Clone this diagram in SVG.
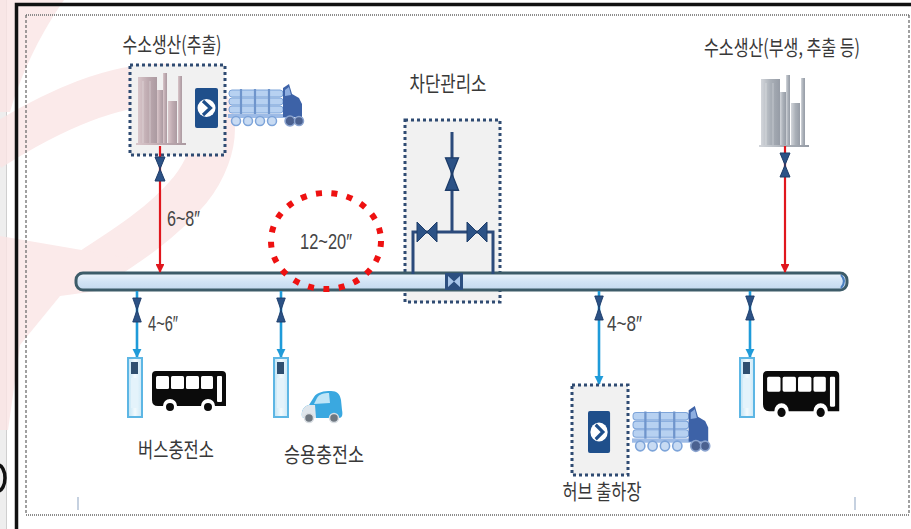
<svg xmlns="http://www.w3.org/2000/svg" width="911" height="529" viewBox="0 0 911 529">
  <style>
    .lbl { font-family: "Noto Sans CJK KR", "Noto Sans", sans-serif; font-size: 21px; fill: #383838; text-anchor: middle; }
    .num { font-family: "Liberation Sans", "Noto Sans", sans-serif; font-size: 22px; fill: #454545; }
    .dotbox { fill: #f1f1f1; stroke: #2f4b72; stroke-width: 3; stroke-dasharray: 3 3; }
    .red { stroke: #e0161d; stroke-width: 2.2; fill: none; }
    .blue { stroke: #1f9bd9; stroke-width: 2.6; fill: none; }
    .valve { fill: #2c5286; stroke: #1d3c69; stroke-width: 1; }
    .navy { stroke: #2b4a7b; stroke-width: 3; fill: none; }
    .wm { fill: #fbe5e5; }
  </style>
  <defs>
    <marker id="arrRed" viewBox="0 0 10 10" refX="9" refY="5" markerWidth="4" markerHeight="4" orient="auto" markerUnits="strokeWidth">
      <path d="M0,0 L10,5 L0,10 Z" fill="#e0161d"/>
    </marker>
    <marker id="arrBlue" viewBox="0 0 10 10" refX="9" refY="5" markerWidth="3.6" markerHeight="3.6" orient="auto" markerUnits="strokeWidth">
      <path d="M0,0 L10,5 L0,10 Z" fill="#1f9bd9"/>
    </marker>
    <linearGradient id="pipeFill" x1="0" y1="0" x2="0" y2="1">
      <stop offset="0" stop-color="#eef5fc"/>
      <stop offset="0.5" stop-color="#d2e4f5"/>
      <stop offset="1" stop-color="#c3d9ee"/>
    </linearGradient>
    <linearGradient id="towerPink" x1="0" y1="0" x2="1" y2="0">
      <stop offset="0" stop-color="#d9c6ca"/>
      <stop offset="0.5" stop-color="#bfabb1"/>
      <stop offset="1" stop-color="#ab9aa1"/>
    </linearGradient>
    <linearGradient id="towerGrey" x1="0" y1="0" x2="1" y2="0">
      <stop offset="0" stop-color="#d3d6db"/>
      <stop offset="0.5" stop-color="#aab0b8"/>
      <stop offset="1" stop-color="#969ca6"/>
    </linearGradient>
    <linearGradient id="dispFill" x1="0" y1="0" x2="1" y2="0">
      <stop offset="0" stop-color="#bfe3f5"/>
      <stop offset="0.5" stop-color="#f3fafd"/>
      <stop offset="1" stop-color="#cbe8f7"/>
    </linearGradient>

    <!-- vertical gate valve (bow-tie) -->
    <g id="valveV">
      <path class="valve" d="M-5,-12 L5,-12 L0,0 Z M-5,12 L5,12 L0,0 Z"/>
    </g>
    <!-- horizontal gate valve -->
    <g id="valveH">
      <path class="valve" d="M-10,-10 L-10,10 L0,0 Z M10,-10 L10,10 L0,0 Z"/>
    </g>

    <!-- production plant towers -->
    <g id="towers">
      <rect x="0" y="4" width="19" height="68"/>
      <rect x="19" y="17" width="6" height="55"/>
      <rect x="25" y="0" width="4" height="72"/>
      <rect x="30" y="28" width="9" height="44"/>
      <rect x="40" y="3" width="4" height="69"/>
      <rect x="-2" y="70" width="50" height="2"/>
      <path d="M5,8 V70 M12,8 V70" stroke="#ffffff" stroke-opacity="0.35" stroke-width="1"/>
    </g>

    <!-- compressor / shipping station badge -->
    <g id="badge">
      <rect x="0" y="0" width="23" height="40" rx="2" fill="#1f4f8b"/>
      <circle cx="11.5" cy="20" r="9" fill="#ffffff"/>
      <path d="M8,13 L15.5,20 L8,27" fill="none" stroke="#1f4f8b" stroke-width="3.2" stroke-linejoin="miter"/>
    </g>

    <!-- tube trailer truck -->
    <g id="truck">
      <rect x="1" y="6" width="54" height="7" rx="3" fill="#b7d1f1" stroke="#7da4d9" stroke-width="1"/>
      <rect x="1" y="14" width="54" height="7" rx="3" fill="#b7d1f1" stroke="#7da4d9" stroke-width="1"/>
      <rect x="1" y="22" width="54" height="7" rx="3" fill="#b7d1f1" stroke="#7da4d9" stroke-width="1"/>
      <path d="M13,5 V31 M27,5 V31 M41,5 V31" stroke="#6f95cc" stroke-width="2.2"/>
      <rect x="0" y="30" width="58" height="4" fill="#9dbbe6"/>
      <circle cx="8" cy="37" r="4.5" fill="#c8dbf3" stroke="#7da4d9" stroke-width="1.5"/>
      <circle cx="20" cy="37" r="4.5" fill="#c8dbf3" stroke="#7da4d9" stroke-width="1.5"/>
      <circle cx="32" cy="37" r="4.5" fill="#c8dbf3" stroke="#7da4d9" stroke-width="1.5"/>
      <circle cx="44" cy="37" r="4.5" fill="#c8dbf3" stroke="#7da4d9" stroke-width="1.5"/>
      <path d="M55,4 L61,0 L64,10 L71,14 L74,20 L74,33 L55,33 Z" fill="#3d62a7"/>
      <path d="M57,6 L61,3 L63,11 L57,12 Z" fill="#8eaee0"/>
      <circle cx="62" cy="37" r="5" fill="#4b6190" stroke="#8aa3cf" stroke-width="1.5"/>
      <circle cx="71" cy="37" r="4.5" fill="#4b6190" stroke="#8aa3cf" stroke-width="1.5"/>
    </g>

    <!-- bus silhouette -->
    <g id="bus">
      <path d="M4,0 H70 Q74,0 74,4 V35 H63 A7,7 0 0 0 49,35 H25 A7,7 0 0 0 11,35 H6 Q0,35 0,29 V4 Q0,0 4,0 Z" fill="#0b0b0b"/>
      <rect x="4" y="5" width="13" height="13" rx="1.5" fill="#ffffff"/>
      <rect x="19" y="5" width="13" height="13" rx="1.5" fill="#ffffff"/>
      <rect x="34" y="5" width="13" height="13" rx="1.5" fill="#ffffff"/>
      <rect x="49" y="5" width="12" height="13" rx="1.5" fill="#ffffff"/>
      <rect x="65" y="5" width="5" height="26" rx="1" fill="#ffffff"/>
      <circle cx="18" cy="36" r="5" fill="#0b0b0b" stroke="#ffffff" stroke-width="2"/>
      <circle cx="56" cy="36" r="5" fill="#0b0b0b" stroke="#ffffff" stroke-width="2"/>
    </g>

    <!-- hydrogen dispenser -->
    <g id="disp">
      <rect x="0" y="0" width="14" height="59" fill="url(#dispFill)" stroke="#5db6e4" stroke-width="2"/>
      <rect x="3" y="4" width="7" height="12" fill="#2f4f70"/>
      <rect x="3" y="20" width="7" height="30" fill="#e4f3fb"/>
    </g>
  </defs>

  <!-- page background and frame -->
  <rect x="0" y="0" width="911" height="529" fill="#ffffff"/>
  <rect x="0" y="0" width="6" height="529" fill="#eeeeee"/>
  <line x1="6.5" y1="0" x2="6.5" y2="529" stroke="#cfcfcf" stroke-width="1"/>

  <!-- faint red logo watermark -->
  <g id="watermark" opacity="0.8">
    <path class="wm" d="M0,0 L64,0 C44,28 22,70 10,112 L0,112 Z"/>
    <path d="M-10,150 C50,112 120,78 180,86 C225,94 222,150 190,190 C160,226 120,250 86,272" fill="none" stroke="#fbe5e5" stroke-width="42"/>
    <path class="wm" d="M0,236 L128,258 L104,290 L60,296 L20,345 L8,430 L0,430 Z"/>
  </g>

  <!-- outer frame -->
  <path d="M16.5,529 V4.5 H911" fill="none" stroke="#111111" stroke-width="3.5"/>
  <!-- inner fine border -->
  <path d="M26,15 H909 M26,515 H909" stroke="#8c8c8c" stroke-width="2" stroke-dasharray="1 1"/>
  <path d="M26,15 V515 M909,15 V515" stroke="#6e6e6e" stroke-width="1.3" stroke-dasharray="3 2"/>
  <line x1="78" y1="497" x2="78" y2="510" stroke="#9fb3cc" stroke-width="1.2"/>
  <line x1="855" y1="497" x2="855" y2="510" stroke="#9fb3cc" stroke-width="1.2"/>
  <ellipse cx="-2" cy="478" rx="7" ry="13" fill="none" stroke="#111111" stroke-width="3.5"/>

  <!-- hydrogen production (extraction) -->
  <g id="prod-left">
    <rect class="dotbox" x="130" y="65" width="95" height="90"/>
    <use href="#towers" x="138" y="73" fill="url(#towerPink)"/>
    <use href="#badge" x="195" y="88"/>
    <use href="#truck" x="228" y="84"/>
    <text class="lbl" x="172" y="52" textLength="99" lengthAdjust="spacingAndGlyphs">수소생산(추출)</text>
  </g>

  <!-- hydrogen production (by-product, extraction, etc.) -->
  <g id="prod-right">
    <use href="#towers" x="761" y="75" fill="url(#towerGrey)"/>
    <text class="lbl" x="782" y="55" font-size="20" textLength="156" lengthAdjust="spacingAndGlyphs">수소생산(부생, 추출 등)</text>
  </g>

  <!-- block valve station box (behind trunk pipe) -->
  <g id="station">
    <rect class="dotbox" x="405" y="120" width="95" height="182"/>
    <text class="lbl" x="448" y="91" textLength="77" lengthAdjust="spacingAndGlyphs">차단관리소</text>
  </g>

  <!-- trunk pipeline -->
  <g id="trunk">
    <rect x="76" y="273" width="771" height="17" rx="7" fill="url(#pipeFill)" stroke="#3d5c69" stroke-width="3"/>
    <path d="M841,275 Q847,281 841,288" fill="none" stroke="#4a7fc0" stroke-width="2"/>
  </g>

  <!-- connectors -->
  <g id="connectors">
    <!-- supply lines into trunk -->
    <line class="red" x1="160" y1="146" x2="160" y2="272" marker-end="url(#arrRed)"/>
    <line class="red" x1="785" y1="146" x2="785" y2="272" marker-end="url(#arrRed)"/>
    <!-- delivery lines from trunk -->
    <line class="blue" x1="137" y1="291" x2="137" y2="357" marker-end="url(#arrBlue)"/>
    <line class="blue" x1="281" y1="291" x2="281" y2="357" marker-end="url(#arrBlue)"/>
    <line class="blue" x1="599" y1="291" x2="599" y2="384" marker-end="url(#arrBlue)"/>
    <line class="blue" x1="750" y1="291" x2="750" y2="357" marker-end="url(#arrBlue)"/>
    <!-- valve station bypass -->
    <path class="navy" d="M452,132 V232 M413,274 V232 H493 V274"/>
    <!-- valves -->
    <use href="#valveV" x="160" y="169"/>
    <use href="#valveV" x="785" y="165"/>
    <use href="#valveV" x="137" y="310" transform="translate(137 310) scale(0.85 1) translate(-137 -310)"/>
    <use href="#valveV" x="281" y="310" transform="translate(281 310) scale(0.85 1) translate(-281 -310)"/>
    <use href="#valveV" x="599" y="308" transform="translate(599 308) scale(0.85 1) translate(-599 -308)"/>
    <use href="#valveV" x="750" y="308" transform="translate(750 308) scale(0.85 1) translate(-750 -308)"/>
    <use href="#valveV" x="452" y="174" transform="translate(452 174) scale(1.3 1.35) translate(-452 -174)"/>
    <use href="#valveH" x="427" y="232"/>
    <use href="#valveH" x="477" y="232"/>
    <!-- inline mainline valve -->
    <rect x="445" y="273" width="18" height="17" fill="#2c4f80"/>
    <path d="M448,276 L448,287 L454,281.5 Z M460,276 L460,287 L454,281.5 Z" fill="#a9c6ea"/>
    <!-- sizes -->
    <text class="num" x="167" y="226" textLength="33" lengthAdjust="spacingAndGlyphs">6~8″</text>
    <text class="num" x="148" y="331" textLength="30" lengthAdjust="spacingAndGlyphs">4~6″</text>
    <text class="num" x="607" y="331" textLength="35" lengthAdjust="spacingAndGlyphs">4~8″</text>
  </g>

  <!-- trunk size callout -->
  <g id="trunk-size">
    <ellipse cx="326" cy="241" rx="55" ry="48" fill="none" stroke="#ee1111" stroke-width="6" stroke-dasharray="6 9.5"/>
    <text class="num" x="300" y="249" textLength="52" lengthAdjust="spacingAndGlyphs">12~20″</text>
  </g>

  <!-- bus charging station -->
  <g id="bus-station-left">
    <use href="#disp" x="128" y="358"/>
    <use href="#bus" x="152" y="371"/>
    <text class="lbl" x="176" y="457" textLength="76" lengthAdjust="spacingAndGlyphs">버스충전소</text>
  </g>

  <!-- passenger car charging station -->
  <g id="car-station">
    <use href="#disp" x="274" y="358"/>
    <g id="car">
      <path d="M302,417 C301,410 304,406 309,405 L314,397 C317,392 324,391 331,391 C337,391 340,394 341,400 L342,410 C343,415 342,418 339,418 L305,418 Z" fill="#3aa8e0"/>
      <path d="M302,417 C301,410 304,406 309,405 L315,405 L316,418 L305,418 Z" fill="#dfe6ec"/>
      <path d="M317,398 C319,394 324,393 329,393 L330,403 L314,404 Z" fill="#bfe5f7"/>
      <circle cx="309" cy="418" r="4.5" fill="#6e7780" stroke="#d8dde2" stroke-width="1.5"/>
      <circle cx="334" cy="418" r="4.5" fill="#6e7780" stroke="#d8dde2" stroke-width="1.5"/>
    </g>
    <text class="lbl" x="324" y="462" textLength="80" lengthAdjust="spacingAndGlyphs">승용충전소</text>
  </g>

  <!-- hub shipping station -->
  <g id="hub">
    <rect class="dotbox" x="572" y="385" width="56" height="90"/>
    <use href="#badge" x="588" y="411" transform="translate(588 411) scale(0.96 1.05) translate(-588 -411)"/>
    <use href="#truck" x="632" y="406" transform="translate(632 406) scale(1.03 1.08) translate(-632 -406)"/>
    <text class="lbl" x="602" y="499" textLength="79" lengthAdjust="spacingAndGlyphs">허브 출하장</text>
  </g>

  <!-- bus charging station (east) -->
  <g id="bus-station-right">
    <use href="#disp" x="740" y="358"/>
    <use href="#bus" x="763" y="371" transform="translate(763 371) scale(1.03 1.15) translate(-763 -371)"/>
  </g>
</svg>
